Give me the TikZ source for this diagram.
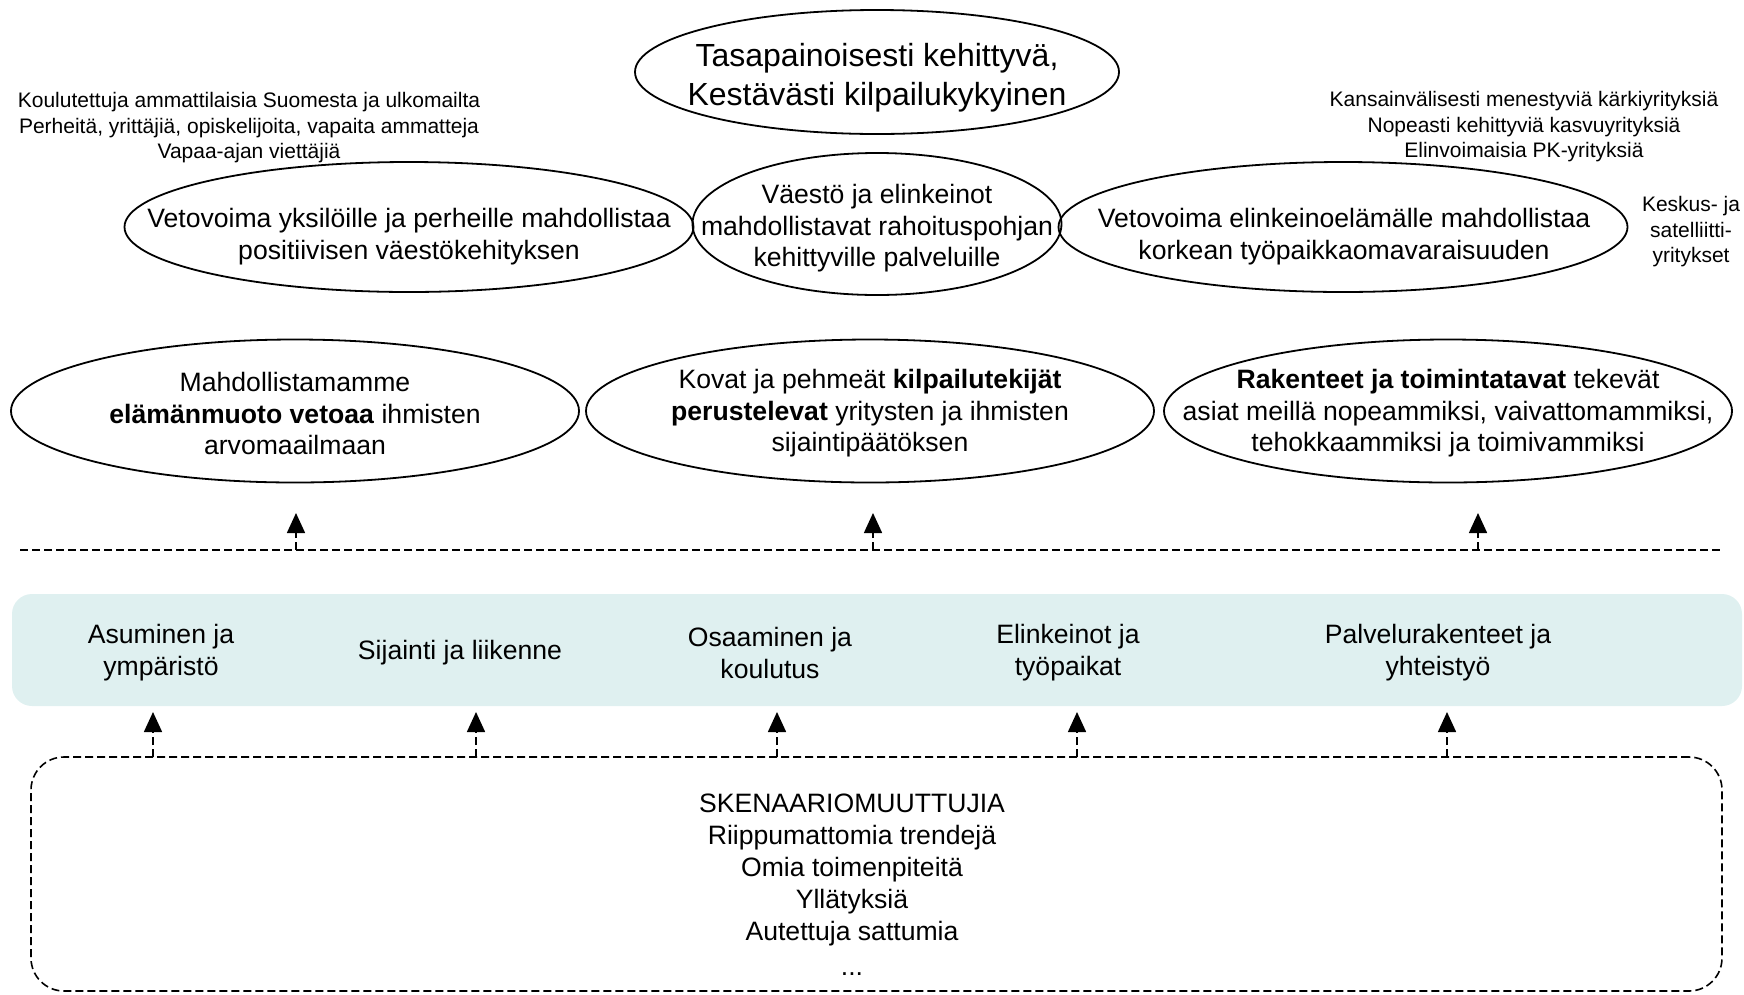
\documentclass[tikz,border=0pt]{standalone}
\usepackage{fontspec}
\setmainfont{Liberation Sans}
\usetikzlibrary{shapes.geometric,arrows.meta}
\definecolor{bandfill}{HTML}{DFF0F0}
\begin{document}
\begin{tikzpicture}[x=1pt,y=-1pt,
  ell/.style={draw, ellipse, line width=1.8pt, inner sep=0pt},
  main/.style={font=\fontsize{26.6}{31.5}\selectfont, align=center, inner sep=0pt},
  big/.style={font=\fontsize{32}{39}\selectfont, align=center, inner sep=0pt},
  ann/.style={font=\fontsize{21}{25.5}\selectfont, align=center, inner sep=0pt},
  dline/.style={line width=1.6pt, dash pattern=on 8pt off 4pt},
  arr/.style={dline, -{Triangle[length=20pt,width=18pt]}}]
\useasboundingbox (0,0) rectangle (1744,994);

% top
\node[ell, minimum width=484pt, minimum height=124pt] (top) at (877,72) {};
\node[big] (toptxt) at (877,77.5) {Tasapainoisesti kehittyvä,\\Kestävästi kilpailukykyinen};

% annotations
\node[ann] (annL) at (249,128) {Koulutettuja ammattilaisia Suomesta ja ulkomailta\\Perheitä, yrittäjiä, opiskelijoita, vapaita ammatteja\\Vapaa-ajan viettäjiä};
\node[ann] (annR) at (1524,127) {Kansainvälisesti menestyviä kärkiyrityksiä\\Nopeasti kehittyviä kasvuyrityksiä\\Elinvoimaisia PK-yrityksiä};
\node[ann] (annK) at (1691,232) {Keskus- ja\\satelliitti-\\yritykset};

% middle row
\node[ell, minimum width=569pt, minimum height=130pt] (m1) at (409,227) {};
\node[main] (m1t) at (409,236.5) {Vetovoima yksilöille ja perheille mahdollistaa\\positiivisen väestökehityksen};
\node[ell, minimum width=369pt, minimum height=142pt] (m2) at (877,224) {};
\node[main] (m2t) at (877,228.5) {Väestö ja elinkeinot\\mahdollistavat rahoituspohjan\\kehittyville palveluille};
\node[ell, minimum width=569pt, minimum height=130pt] (m3) at (1343,227) {};
\node[main] (m3t) at (1344,236.5) {Vetovoima elinkeinoelämälle mahdollistaa\\korkean työpaikkaomavaraisuuden};

% third row
\node[ell, minimum width=568pt, minimum height=143pt] (r1) at (295,411) {};
\node[main] (r1t) at (295,413.5) {Mahdollistamamme\\\textbf{elämänmuoto vetoaa} ihmisten\\arvomaailmaan};
\node[ell, minimum width=568pt, minimum height=143pt] (r2) at (870,411) {};
\node[main] (r2t) at (870,413.5) {Kovat ja pehmeät \textbf{kilpailutekijät}\\\textbf{perustelevat} yritysten ja ihmisten\\sijaintipäätöksen};
\node[ell, minimum width=568pt, minimum height=143pt] (r3) at (1448,411) {};
\node[main] (r3t) at (1448,413.5) {\textbf{Rakenteet ja toimintatavat} tekevät\\asiat meillä nopeammiksi, vaivattomammiksi,\\tehokkaammiksi ja toimivammiksi};

% dashed separator line
\coordinate (dl1) at (20,550);
\coordinate (dl2) at (1723,550);
\draw[dline] (dl1) -- (dl2);

% upper arrows
\coordinate (u1s) at (296,550); \coordinate (u1e) at (296,513);
\coordinate (u2s) at (873,550); \coordinate (u2e) at (873,513);
\coordinate (u3s) at (1478,550); \coordinate (u3e) at (1478,513);
\draw[arr] (u1s) -- (u1e);
\draw[arr] (u2s) -- (u2e);
\draw[arr] (u3s) -- (u3e);

% band
\node[fill=bandfill, rounded corners=20pt, minimum width=1730pt, minimum height=112pt, inner sep=0pt] (band) at (877,650) {};
\node[main, font=\fontsize{26.6}{32}\selectfont] (b1) at (161,652.5) {Asuminen ja\\ympäristö};
\node[main] (b2) at (460,652.5) {Sijainti ja liikenne};
\node[main, font=\fontsize{26.6}{32}\selectfont] (b3) at (770,652.5) {Osaaminen ja\\koulutus};
\node[main, font=\fontsize{26.6}{32}\selectfont] (b4) at (1068,652.5) {Elinkeinot ja\\työpaikat};
\node[main, font=\fontsize{26.6}{32}\selectfont] (b5) at (1438,652.5) {Palvelurakenteet ja\\yhteistyö};

% scenario box
\node[draw, dline, rounded corners=33pt, minimum width=1691pt, minimum height=234pt, inner sep=0pt] (box) at (876.5,874) {};
\node[main, font=\fontsize{26.6}{32}\selectfont] (boxt) at (852,885) {SKENAARIOMUUTTUJIA\\Riippumattomia trendejä\\Omia toimenpiteitä\\Yllätyksiä\\Autettuja sattumia\\[3pt]...};

% lower arrows
\coordinate (l1s) at (153,757); \coordinate (l1e) at (153,712);
\coordinate (l2s) at (476,757); \coordinate (l2e) at (476,712);
\coordinate (l3s) at (777,757); \coordinate (l3e) at (777,712);
\coordinate (l4s) at (1077,757); \coordinate (l4e) at (1077,712);
\coordinate (l5s) at (1447,757); \coordinate (l5e) at (1447,712);
\draw[arr] (l1s) -- (l1e);
\draw[arr] (l2s) -- (l2e);
\draw[arr] (l3s) -- (l3e);
\draw[arr] (l4s) -- (l4e);
\draw[arr] (l5s) -- (l5e);
\end{tikzpicture}
\end{document}
